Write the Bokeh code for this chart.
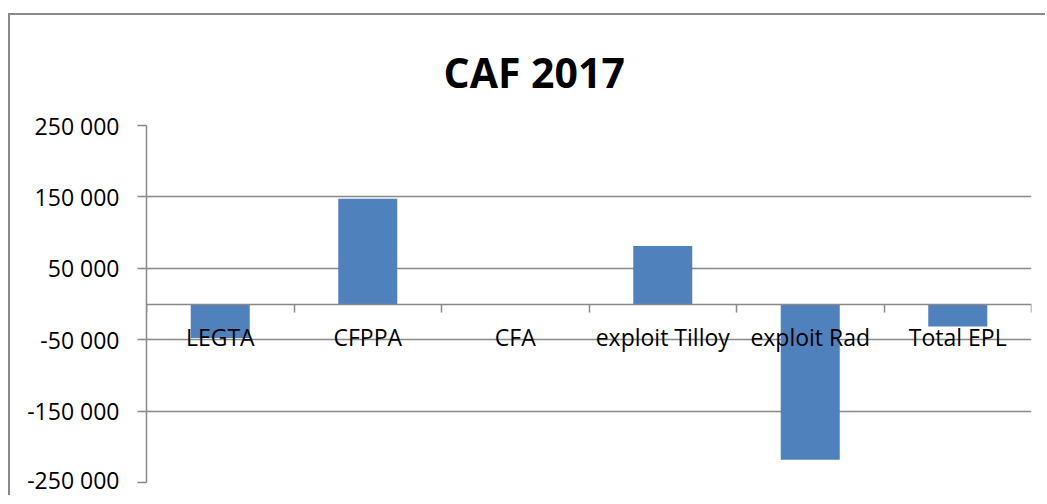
from bokeh.plotting import figure
from bokeh.models import Range1d, LinearAxis, FixedTicker, ColumnDataSource
from bokeh.embed import file_html
from bokeh.resources import INLINE

# ---- data ----
categories = ["LEGTA", "CFPPA", "CFA", "exploit Tilloy", "exploit Rad", "Total EPL"]
caf_values = [-47500, 147500, 0, 81300, -218000, -31400]
y_ticks = [-250000, -150000, -50000, 50000, 150000, 250000]
y_tick_labels = ["-250 000", "-150 000", "-50 000", "50 000", "150 000", "250 000"]
title_text = "CAF 2017"

FONT = "Open Sans"
GRAY = "#898989"
BAR = "#4F81BD"

n = len(categories)
centers = [i + 0.5 for i in range(n)]
bounds = list(range(n + 1))
src = ColumnDataSource(dict(x=centers, val=caf_values))

p = figure(width=1037, height=482,
           x_range=Range1d(0, n),
           y_range=Range1d(min(y_ticks), max(y_ticks)),
           output_backend="svg", toolbar_location=None,
           x_axis_location=None,
           min_border_left=136, min_border_right=16,
           min_border_top=110, min_border_bottom=15)
p.margin = (13, 0, 0, 8)
p.styles = {"border-top": "2px solid #898989", "border-left": "2px solid #898989"}
p.outline_line_color = None
p.background_fill_color = "white"
p.border_fill_color = "white"

# title
p.title.text = title_text
p.title.align = "left"
p.title.offset = 297
p.title.standoff = 52
p.title.text_font = FONT
p.title.text_font_size = "41px"
p.title.text_font_style = "bold"
p.title.text_color = "black"

# bars
p.vbar(x="x", top="val", bottom=0, width=0.4, source=src,
       fill_color=BAR, line_color=None)

# y axis
yax = p.yaxis[0]
yax.ticker = FixedTicker(ticks=y_ticks)
yax.major_label_overrides = {t: l for t, l in zip(y_ticks, y_tick_labels)}
yax.major_tick_out = 9
yax.major_tick_in = 0
yax.minor_tick_line_color = None
yax.major_tick_line_color = GRAY
yax.major_tick_line_width = 1.5
yax.axis_line_color = GRAY
yax.axis_line_width = 1.5
yax.major_label_standoff = 18
yax.major_label_text_font = FONT
yax.major_label_text_font_size = "23px"
yax.major_label_text_color = "black"

# grid
p.xgrid.visible = False
p.ygrid.ticker = FixedTicker(ticks=y_ticks)
p.ygrid.grid_line_color = GRAY
p.ygrid.grid_line_width = 1.5

# category boundary ticks on the zero line
tick_axis = LinearAxis(ticker=FixedTicker(ticks=bounds),
                       fixed_location=0,
                       axis_line_color=GRAY, axis_line_width=1.5,
                       major_tick_out=8, major_tick_in=0,
                       major_tick_line_color=GRAY, major_tick_line_width=1.5,
                       minor_tick_line_color=None,
                       major_label_text_color=None,
                       major_label_text_font_size="1px")
p.add_layout(tick_axis, "below")

# category labels at zero line
cat_axis = LinearAxis(ticker=FixedTicker(ticks=centers),
                      major_label_overrides={c: l for c, l in zip(centers, categories)},
                      fixed_location=0,
                      axis_line_color=None,
                      major_tick_line_color=None, major_tick_out=0,
                      major_tick_in=0, minor_tick_line_color=None,
                      major_label_standoff=17,
                      major_label_text_font=FONT,
                      major_label_text_font_size="23px",
                      major_label_text_color="black")
p.add_layout(cat_axis, "below")

open("out.html", "w").write(file_html(p, INLINE))
